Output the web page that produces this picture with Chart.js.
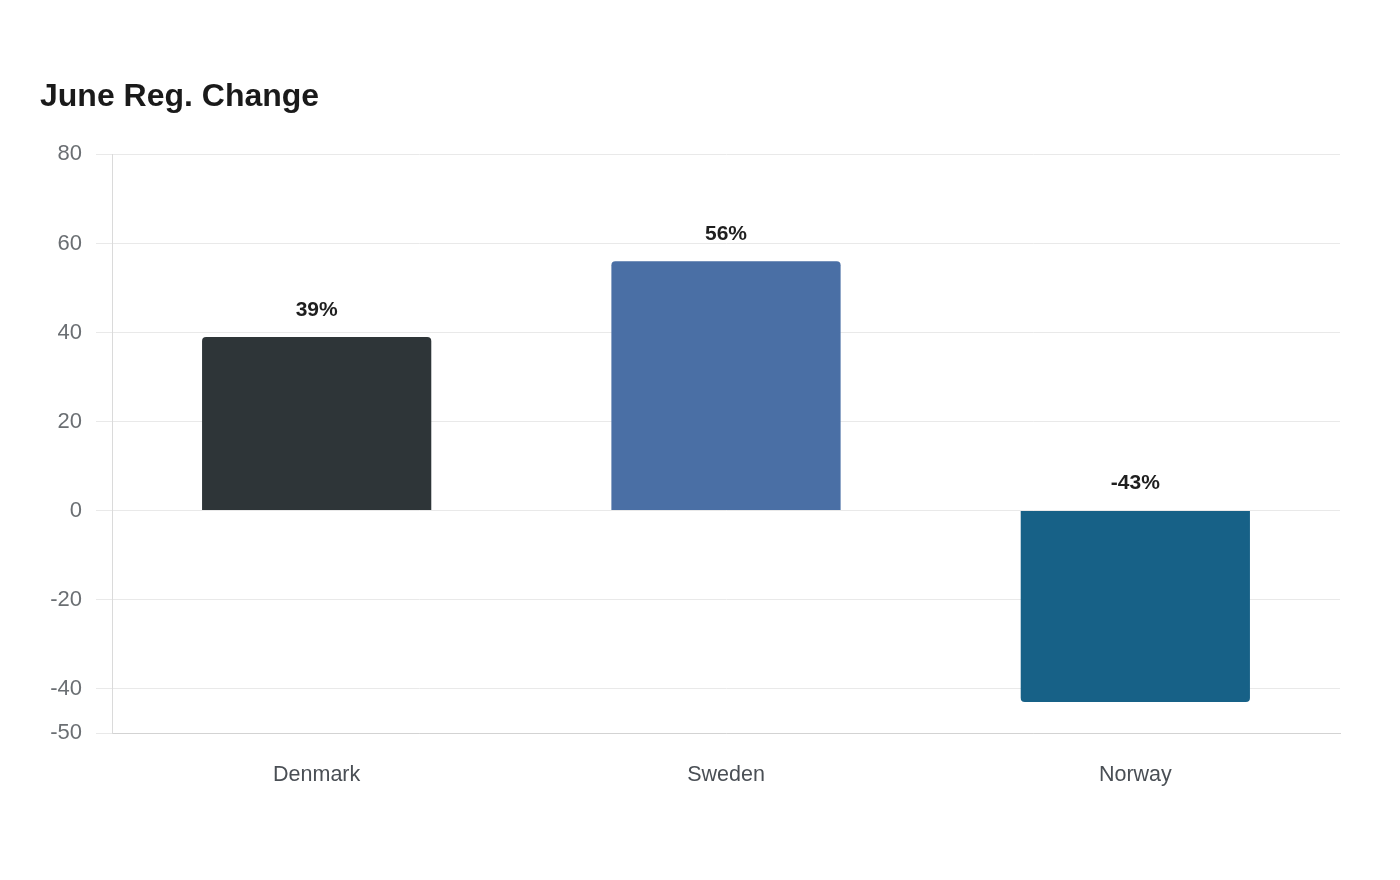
<!DOCTYPE html>
<html>
<head>
<meta charset="utf-8">
<title>June Reg. Change</title>
<script src="https://cdn.jsdelivr.net/npm/chart.js@4.4.0/dist/chart.umd.min.js"></script>
<style>
  html, body { margin: 0; padding: 0; background: #ffffff; }
  #wrap { width: 1400px; height: 880px; position: relative; }
</style>
</head>
<body>
<div id="wrap"><canvas id="regChart"></canvas></div>
<script>
// chart data
const countries = ['Denmark', 'Sweden', 'Norway'];
const regChange = [39, 56, -43];
const barColors = ['#2E3538', '#4A6FA5', '#176187'];
const yTickValues = [-50, -40, -20, 0, 20, 40, 60, 80];

// draws the "39%" style labels above each bar (or above the zero line for negatives)
const valueLabels = {
  id: 'valueLabels',
  afterDatasetsDraw(chart) {
    const ctx = chart.ctx;
    const yScale = chart.scales.y;
    const zeroY = yScale.getPixelForValue(0);
    ctx.save();
    ctx.font = 'bold 21px "Liberation Sans", Arial, sans-serif';
    ctx.fillStyle = '#1f1f1f';
    ctx.textAlign = 'center';
    ctx.textBaseline = 'middle';
    chart.getDatasetMeta(0).data.forEach(function (bar, i) {
      const top = Math.min(bar.y, zeroY);
      ctx.fillText(regChange[i] + '%', bar.x, top - 27);
    });
    ctx.restore();
  }
};

const ctx = document.getElementById('regChart').getContext('2d');

new Chart(ctx, {
  type: 'bar',
  data: {
    labels: countries,
    datasets: [{
      label: 'June Reg. Change',
      data: regChange,
      backgroundColor: barColors,
      borderRadius: 4,
      borderSkipped: 'start',
      categoryPercentage: 1.0,
      barPercentage: 0.56
    }]
  },
  options: {
    responsive: true,
    maintainAspectRatio: false,
    animation: false,
    layout: {
      padding: { top: 0, left: 40, right: 60, bottom: 63 }
    },
    scales: {
      x: {
        grid: { display: false, drawTicks: false },
        border: { display: true, color: '#d3d3d3', width: 1 },
        ticks: {
          color: '#4a4f55',
          padding: 29,
          font: { family: '"Liberation Sans", Arial, sans-serif', size: 21.5 }
        }
      },
      y: {
        min: -50,
        max: 80,
        afterBuildTicks(scale) {
          scale.ticks = yTickValues.map(v => ({ value: v }));
        },
        afterFit(scale) {
          scale.width = 72;
        },
        grid: { color: '#e9e9e9', lineWidth: 1, tickLength: 16 },
        border: { display: true, color: '#dadada', width: 1 },
        ticks: {
          color: '#6b6f73',
          padding: 14,
          font: { family: '"Liberation Sans", Arial, sans-serif', size: 22 }
        }
      }
    },
    plugins: {
      legend: { display: false },
      tooltip: { enabled: false },
      title: {
        display: true,
        text: 'June Reg. Change',
        align: 'start',
        color: '#1a1a1a',
        padding: { top: 78, bottom: 38 },
        font: { family: '"Liberation Sans", Arial, sans-serif', size: 32, weight: 'bold' }
      }
    }
  },
  plugins: [valueLabels]
});
</script>
</body>
</html>
